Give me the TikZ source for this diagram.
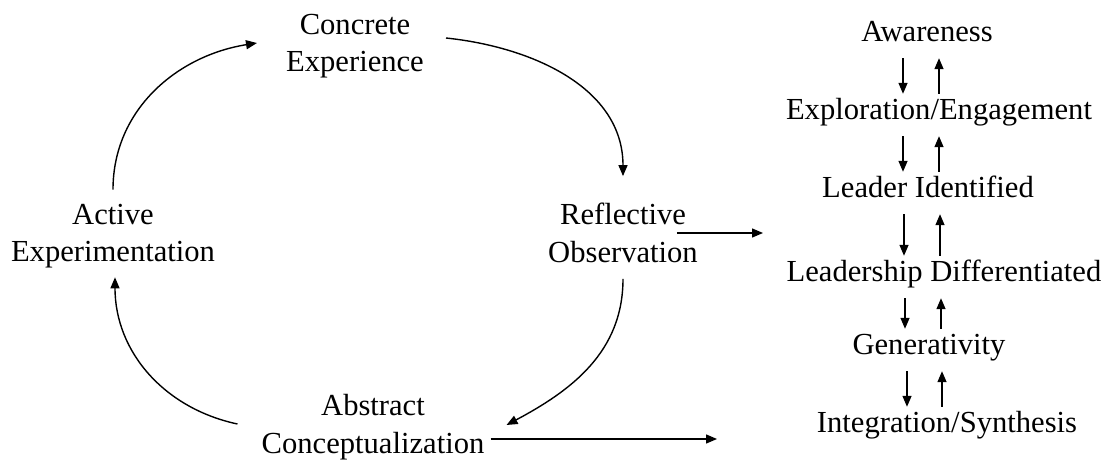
\documentclass[tikz,border=0pt]{standalone}
\usepackage{fontspec}
\setmainfont{Liberation Serif}
\usetikzlibrary{arrows.meta}
\begin{document}
\begin{tikzpicture}[x=1pt, y=1pt,
  stage/.style={align=center, inner sep=0pt, font=\fontsize{30.6}{37.5}\selectfont},
  level/.style={anchor=base, inner sep=0pt, text height=20pt, text depth=7pt, font=\fontsize{30.6}{37.5}\selectfont},
  flow/.style={-{Triangle[length=11pt,width=9pt]}, line width=1.4pt},
  downstep/.style={flow, shorten <=9pt, shorten >=6pt},
  upstep/.style={flow, shorten <=6pt, shorten >=9pt}]
\useasboundingbox (0,0) rectangle (1112,-462);
\node[stage] (ce) at (355,-46) {Concrete\\Experience};
\node[stage] (ro) at (623,-233) {Reflective\\Observation};
\node[stage] (ac) at (373,-427) {Abstract\\Conceptualization};
\node[stage] (ae) at (113,-236) {Active\\Experimentation};
\node[level] (aw) at (927,-42) {Awareness};
\node[level] (ex) at (939,-120) {Exploration/Engagement};
\node[level] (li) at (928,-198) {Leader Identified};
\node[level] (ld) at (944,-282) {Leadership Differentiated};
\node[level] (ge) at (929,-355) {Generativity};
\node[level] (is) at (947,-433) {Integration/Synthesis};
\coordinate (ladderin) at (763,-233);
\coordinate (ladderout) at (717,-439);
\draw[flow] ([xshift=22pt,yshift=8pt]ce.east) to[out=-6, in=90] ([yshift=27pt]ro.north);
\draw[flow] ([yshift=-16pt]ro.south) to[out=-90, in=28] ([xshift=22pt,yshift=2pt]ac.east);
\draw[flow] ([xshift=-24pt,yshift=3pt]ac.west) to[out=168, in=-90] ([xshift=2pt,yshift=-9pt]ae.south);
\draw[flow] ([yshift=14pt]ae.north) to[out=90, in=-171] ([xshift=-29pt,yshift=3pt]ce.west);
\draw[flow] ([xshift=-21pt]ro.east) -- (ladderin);
\draw[flow] ([xshift=6pt,yshift=-12pt]ac.east) -- (ladderout);
\foreach \a/\b/\xd/\xu in {aw/ex/903/939, ex/li/903/939, li/ld/904/940, ld/ge/905/941, ge/is/907/942} {
  \draw[downstep] (\xd,0 |- \a.south) -- (\xd,0 |- \b.north);
  \draw[upstep] (\xu,0 |- \b.north) -- (\xu,0 |- \a.south);
}
\end{tikzpicture}
\end{document}
